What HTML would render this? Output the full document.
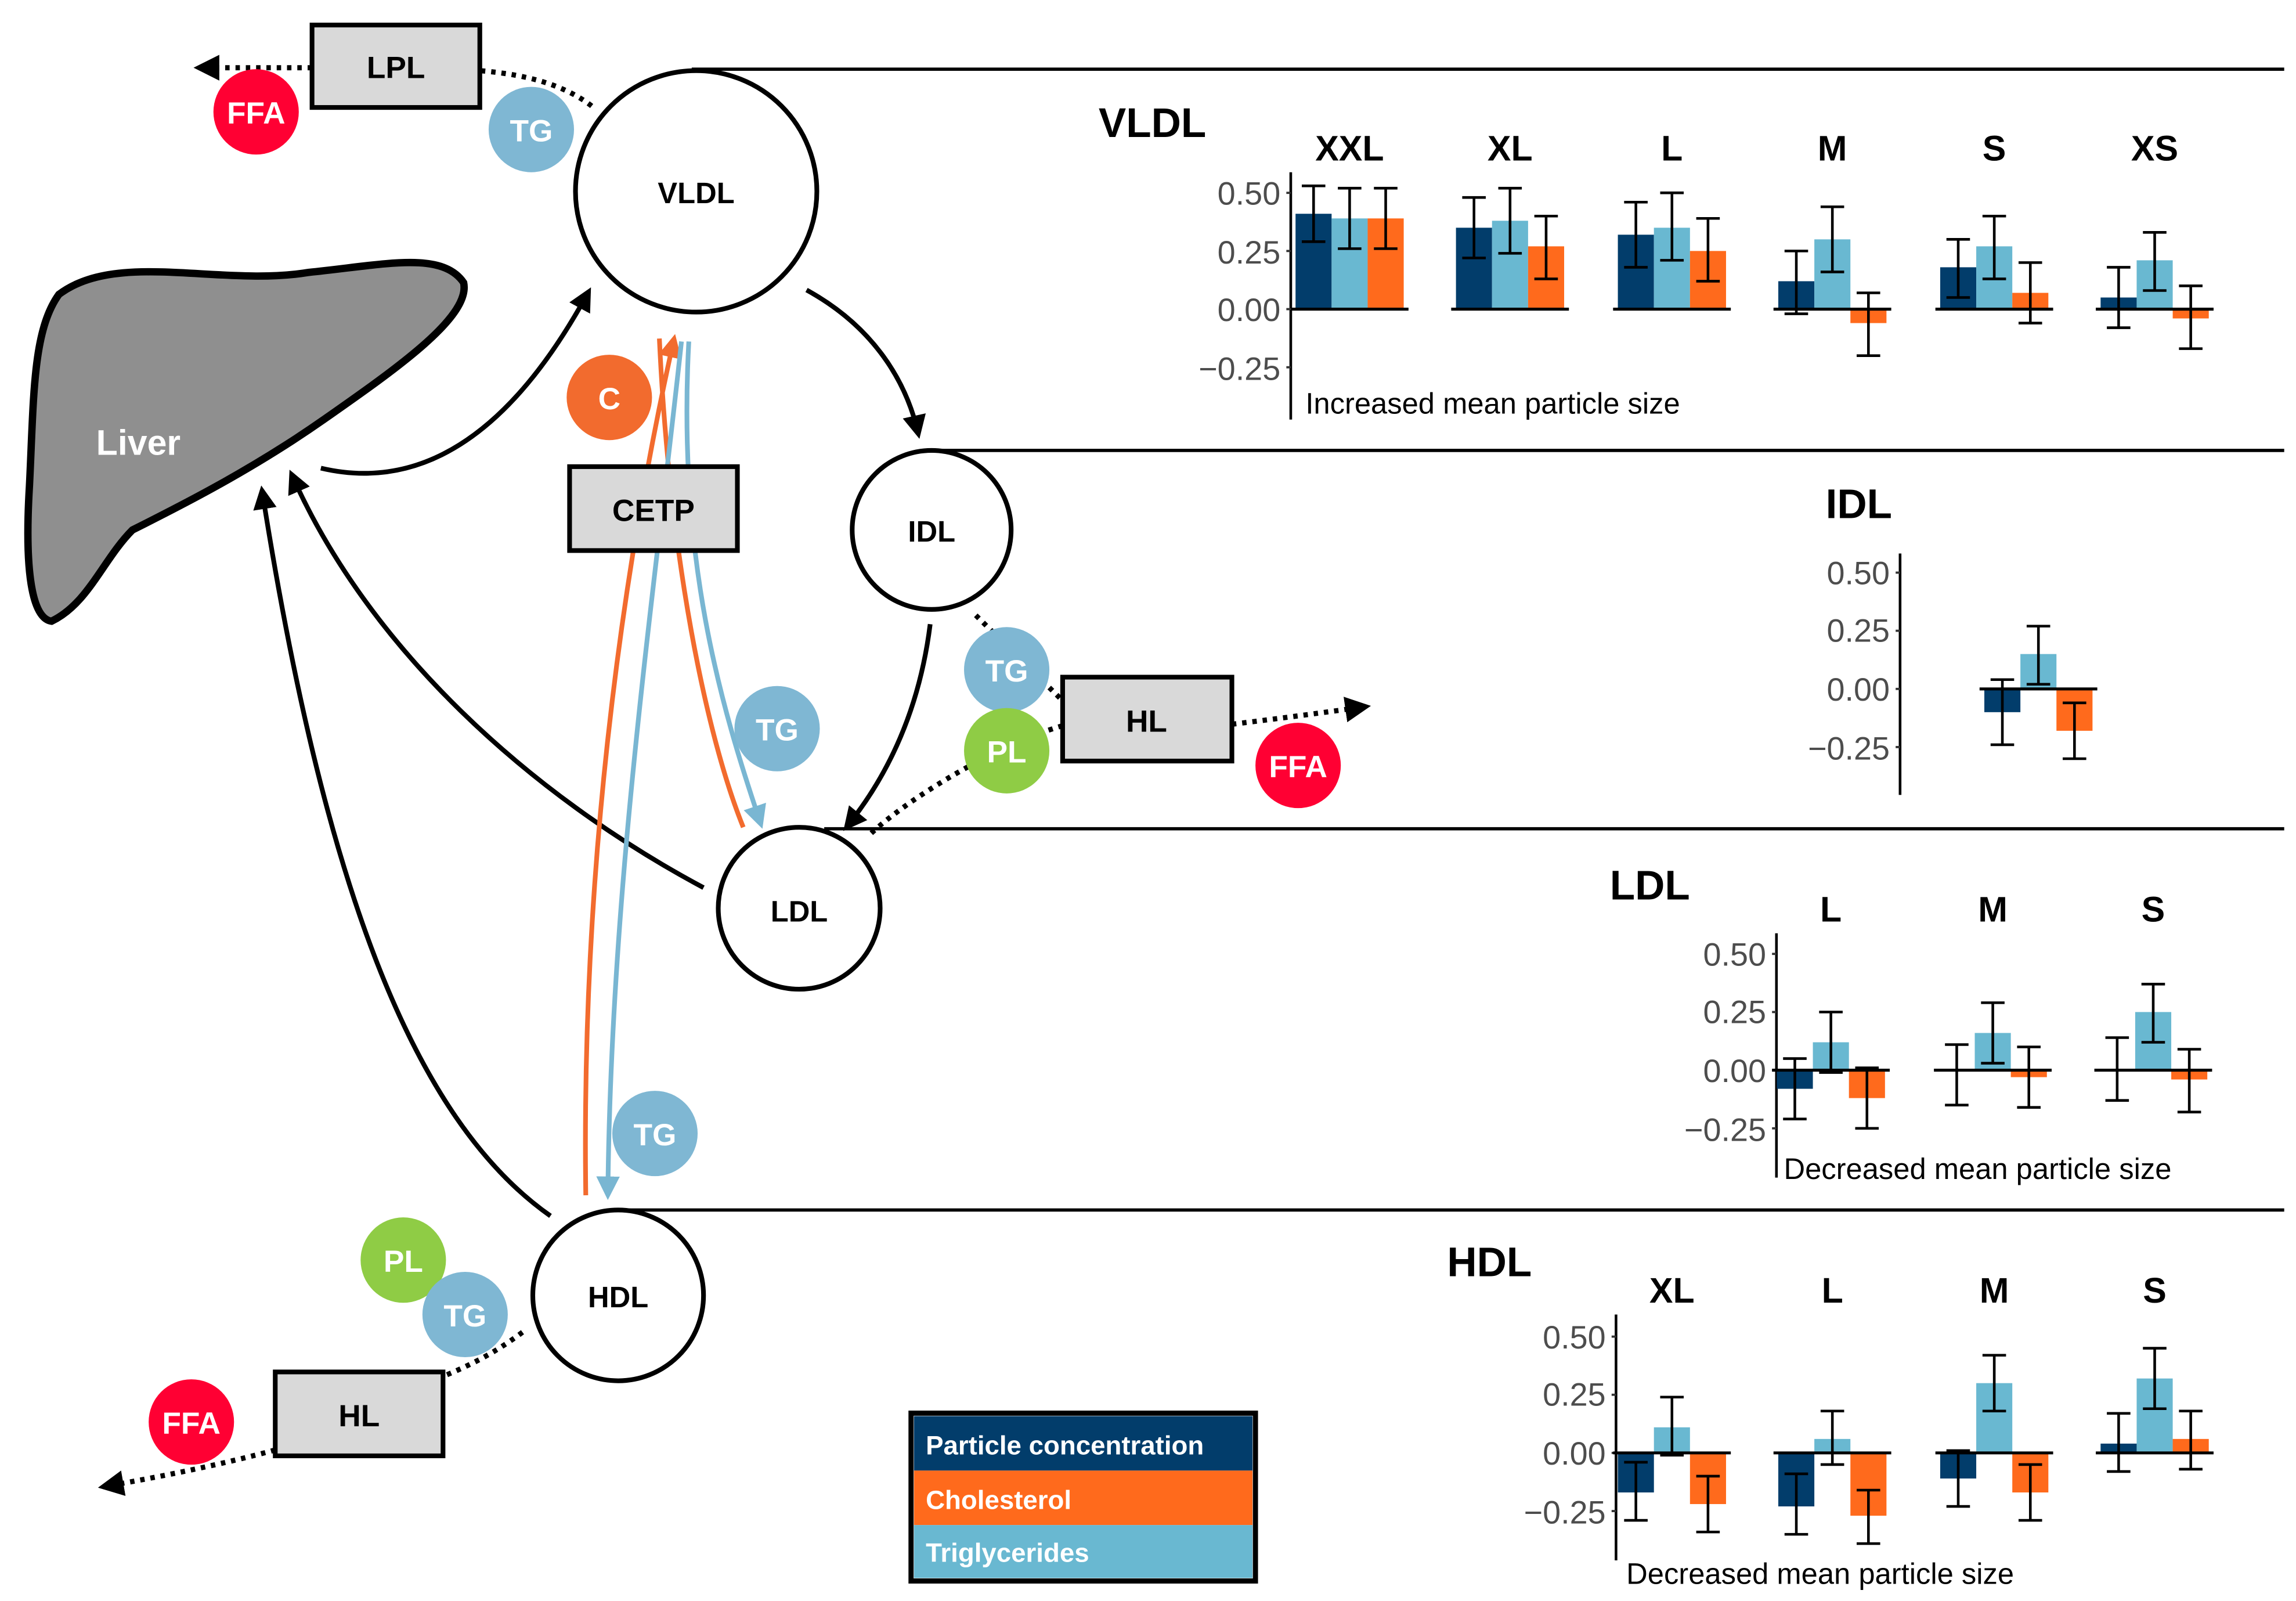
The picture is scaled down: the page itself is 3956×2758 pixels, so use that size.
<!DOCTYPE html>
<html><head><meta charset="utf-8"><style>
html,body{margin:0;padding:0;background:#fff;}
svg{display:block;}
text{font-family:"Liberation Sans",sans-serif;}
</style></head><body>
<svg id="s" width="3956" height="2758" viewBox="0 0 1560 1087.6" xmlns="http://www.w3.org/2000/svg">
<defs>
<marker id="ah" viewBox="0 0 10 10" refX="8" refY="5" markerWidth="5" markerHeight="5" orient="auto-start-reverse"><path d="M0,0L10,5L0,10z" fill="#000"/></marker>
<marker id="ab" viewBox="0 0 10 10" refX="8" refY="5" markerWidth="5" markerHeight="5" orient="auto"><path d="M0,0L10,5L0,10z" fill="#79b6d2"/></marker>
<marker id="ao" viewBox="0 0 10 10" refX="8" refY="5" markerWidth="5" markerHeight="5" orient="auto"><path d="M0,0L10,5L0,10z" fill="#f26b2e"/></marker>
</defs>
<!-- horizontal separators -->
<g stroke="#000" stroke-width="2.2">
<line x1="470" y1="47" x2="1552" y2="47"/>
<line x1="640" y1="306" x2="1552" y2="306"/>
<line x1="560" y1="563" x2="1552" y2="563"/>
<line x1="425" y1="822" x2="1552" y2="822"/>
</g>
<!-- liver -->
<path d="M40,200 C80,170 150,195 210,185 C260,180 300,170 315,192 C320,215 270,250 220,285 C170,320 120,345 90,360 C70,380 60,410 35,422 C20,420 17,380 20,330 C23,270 22,225 40,200 Z" fill="#8f8f8f" stroke="#000" stroke-width="5"/>
<text x="94" y="309" font-size="24" font-weight="bold" fill="#fff" text-anchor="middle">Liver</text>
<!-- black pathway arrows -->
<g fill="none" stroke="#000" stroke-width="3.2">
<path d="M218,318 C290,335 350,290 400,198" marker-end="url(#ah)"/>
<path d="M548,197 C590,220 615,255 624,295" marker-end="url(#ah)"/>
<path d="M632,424 C625,480 605,525 575,562" marker-end="url(#ah)"/>
<path d="M478,603 C360,540 250,440 198,322" marker-end="url(#ah)"/>
<path d="M374,826 C280,760 220,600 178,333" marker-end="url(#ah)"/>
</g>
<!-- dotted -->
<g fill="none" stroke="#000" stroke-width="3.5" stroke-dasharray="3,4">
<path d="M402,72 C380,55 350,50 326,48"/>
<path d="M212,46 L135,46" marker-end="url(#ah)"/>
<path d="M663,418 L722,476"/>
<path d="M837,492 C870,488 900,484 928,480" marker-end="url(#ah)"/>
<path d="M592,566 C620,540 680,505 722,493"/>
<path d="M355,905 C335,920 318,928 301,935"/>
<path d="M187,985 C150,995 110,1003 70,1010" marker-end="url(#ah)"/>
</g>
<!-- CETP colored arrows -->
<g fill="none" stroke-width="3.2">
<path d="M398,812 C395,600 420,400 458,230" stroke="#f26b2e" marker-end="url(#ao)"/>
<path d="M448,230 C455,380 480,500 505,562" stroke="#f26b2e"/>
<path d="M463,232 C445,400 415,600 413,812" stroke="#79b6d2" marker-end="url(#ab)"/>
<path d="M468,232 C460,380 490,480 517,560" stroke="#79b6d2" marker-end="url(#ab)"/>
</g>
<!-- circles -->
<g fill="#fff" stroke="#000" stroke-width="3.2">
<circle cx="473" cy="130" r="82"/>
<circle cx="633" cy="360" r="54"/>
<circle cx="543" cy="617" r="55"/>
<circle cx="420" cy="880" r="58"/>
</g>
<g font-size="20" font-weight="bold" text-anchor="middle">
<text x="473" y="138">VLDL</text>
<text x="633" y="368">IDL</text>
<text x="543" y="626">LDL</text>
<text x="420" y="888">HDL</text>
</g>
<!-- boxes -->
<g fill="#d9d9d9" stroke="#000" stroke-width="3.2">
<rect x="212" y="17" width="114" height="56"/>
<rect x="387" y="317" width="114" height="57"/>
<rect x="722" y="460" width="115" height="57"/>
<rect x="187" y="932" width="114" height="57"/>
</g>
<g font-size="21" font-weight="bold" text-anchor="middle">
<text x="269" y="53">LPL</text>
<text x="444" y="354">CETP</text>
<text x="779" y="497">HL</text>
<text x="244" y="969">HL</text>
</g>
<!-- small circles -->
<g font-size="21" font-weight="bold" fill="#fff" text-anchor="middle">
<circle cx="174" cy="76" r="29" fill="#ff0033"/><text x="174" y="84">FFA</text>
<circle cx="361" cy="88" r="29" fill="#7fb7d3"/><text x="361" y="96">TG</text>
<circle cx="414" cy="270" r="29" fill="#f26b2e"/><text x="414" y="278">C</text>
<circle cx="528" cy="495" r="29" fill="#7fb7d3"/><text x="528" y="503">TG</text>
<circle cx="684" cy="455" r="29" fill="#7fb7d3"/><text x="684" y="463">TG</text>
<circle cx="684" cy="510" r="29" fill="#8fcc45"/><text x="684" y="518">PL</text>
<circle cx="882" cy="520" r="29" fill="#ff0033"/><text x="882" y="528">FFA</text>
<circle cx="445" cy="770" r="29" fill="#7fb7d3"/><text x="445" y="778">TG</text>
<circle cx="274" cy="856" r="29" fill="#8fcc45"/><text x="274" y="864">PL</text>
<circle cx="316" cy="893" r="29" fill="#7fb7d3"/><text x="316" y="901">TG</text>
<circle cx="130" cy="966" r="29" fill="#ff0033"/><text x="130" y="974">FFA</text>
</g>
<!-- legend -->
<rect x="619" y="960" width="234" height="114" fill="#fff" stroke="#000" stroke-width="3.5"/>
<rect x="621" y="962" width="230" height="37" fill="#023d6b"/>
<rect x="621" y="999" width="230" height="37" fill="#ff6a1c"/>
<rect x="621" y="1036" width="230" height="36" fill="#69b8d1"/>
<g font-size="18" font-weight="bold" fill="#fff">
<text x="629" y="988">Particle concentration</text>
<text x="629" y="1025">Cholesterol</text>
<text x="629" y="1061">Triglycerides</text>
</g>
<!-- chart titles -->
<g font-weight="bold" text-anchor="middle">
<text x="783" y="93" font-size="28">VLDL</text>
<text x="1263" y="352" font-size="28">IDL</text>
<text x="1121" y="611" font-size="28">LDL</text>
<text x="1012" y="867" font-size="28">HDL</text>
<g font-size="24">
<text x="917" y="109">XXL</text><text x="1026" y="109">XL</text><text x="1136" y="109">L</text><text x="1245" y="109">M</text><text x="1355" y="109">S</text><text x="1464" y="109">XS</text>
<text x="1244" y="626">L</text><text x="1354" y="626">M</text><text x="1463" y="626">S</text>
<text x="1136" y="885">XL</text><text x="1245" y="885">L</text><text x="1355" y="885">M</text><text x="1464" y="885">S</text>
</g>
</g>
<!-- tick labels -->
<g font-size="22" fill="#4d4d4d" text-anchor="end">
<text x="870" y="139">0.50</text><text x="870" y="179">0.25</text><text x="870" y="218">0.00</text><text x="870" y="258">−0.25</text>
<text x="1284" y="397">0.50</text><text x="1284" y="436">0.25</text><text x="1284" y="476">0.00</text><text x="1284" y="516">−0.25</text>
<text x="1200" y="656">0.50</text><text x="1200" y="695">0.25</text><text x="1200" y="735">0.00</text><text x="1200" y="775">−0.25</text>
<text x="1091" y="916">0.50</text><text x="1091" y="955">0.25</text><text x="1091" y="995">0.00</text><text x="1091" y="1035">−0.25</text>
</g>
<g font-size="20">
<text x="887" y="281">Increased mean particle size</text>
<text x="1212" y="801">Decreased mean particle size</text>
<text x="1105" y="1076">Decreased mean particle size</text>
</g>
<g id="charts"></g>
</svg>
<script>
var ns="http://www.w3.org/2000/svg",g=document.getElementById("charts");
function el(t,a){var e=document.createElementNS(ns,t);for(var k in a)e.setAttribute(k,a[k]);g.appendChild(e);}
var cols=["#023d6b","#69b8d1","#ff6a1c"],S=158;
function chart(ax,y0,top,bot,groups){
 el("line",{x1:ax,y1:top,x2:ax,y2:bot,stroke:"#000","stroke-width":1.8});
 [0.5,0.25,0,-0.25].forEach(function(v){el("line",{x1:ax-3,y1:y0-v*S,x2:ax,y2:y0-v*S,stroke:"#333","stroke-width":1.5});});
 groups.forEach(function(gr){var c=gr[0];
  for(var i=0;i<3;i++){var d=gr[1][i],x=c+(i-1)*24.5-12.25,v=d[0];
   el("rect",{x:x,y:Math.min(y0,y0-v*S),width:24.5,height:Math.abs(v*S),fill:cols[i]});}
  el("line",{x1:c-40,y1:y0,x2:c+40,y2:y0,stroke:"#000","stroke-width":2});
  for(var i=0;i<3;i++){var d=gr[1][i],x=c+(i-1)*24.5,a=y0-d[1]*S,b=y0-d[2]*S;
   el("line",{x1:x,y1:a,x2:x,y2:b,stroke:"#000","stroke-width":1.8});
   el("line",{x1:x-8,y1:a,x2:x+8,y2:a,stroke:"#000","stroke-width":1.8});
   el("line",{x1:x-8,y1:b,x2:x+8,y2:b,stroke:"#000","stroke-width":1.8});}
 });
}
chart(877,210,117,285,[
[917,[[.41,.53,.29],[.39,.52,.26],[.39,.52,.26]]],
[1026,[[.35,.48,.22],[.38,.52,.24],[.27,.40,.13]]],
[1136,[[.32,.46,.18],[.35,.50,.21],[.25,.39,.12]]],
[1245,[[.12,.25,-.02],[.30,.44,.16],[-.06,.07,-.20]]],
[1355,[[.18,.30,.05],[.27,.40,.13],[.07,.20,-.06]]],
[1464,[[.05,.18,-.08],[.21,.33,.08],[-.04,.10,-.17]]]]);
chart(1291,468,376,540,[[1385,[[-.10,.04,-.24],[.15,.27,.02],[-.18,-.06,-.30]]]]);
chart(1207,727,634,800,[
[1244,[[-.08,.05,-.21],[.12,.25,-.01],[-.12,.01,-.25]]],
[1354,[[0,.11,-.15],[.16,.29,.03],[-.03,.10,-.16]]],
[1463,[[0,.14,-.13],[.25,.37,.12],[-.04,.09,-.18]]]]);
chart(1098,987,893,1060,[
[1136,[[-.17,-.04,-.29],[.11,.24,-.01],[-.22,-.10,-.34]]],
[1245,[[-.23,-.09,-.35],[.06,.18,-.05],[-.27,-.16,-.39]]],
[1355,[[-.11,.01,-.23],[.30,.42,.18],[-.17,-.05,-.29]]],
[1464,[[.04,.17,-.08],[.32,.45,.19],[.06,.18,-.07]]]]);
</script>
</body></html>
